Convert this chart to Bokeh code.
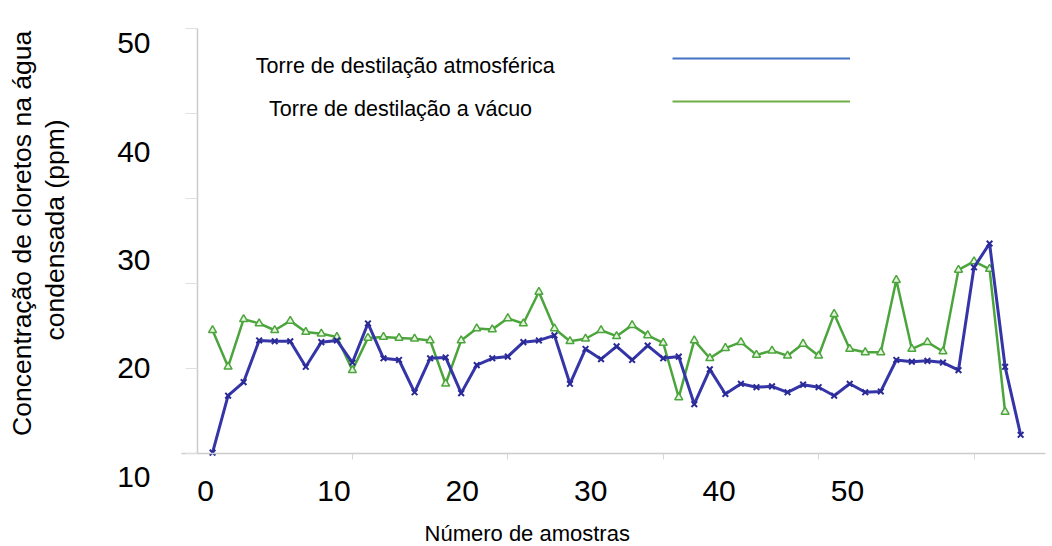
import math
from bokeh.plotting import figure
from bokeh.models import (Range1d, LinearAxis, FixedTicker, Legend, LegendItem,
                          Label, ColumnDataSource)
from bokeh.core.properties import value
from bokeh.embed import file_html
from bokeh.resources import INLINE

# ---------------- data ----------------
samples_atm = list(range(1, 54))
cl_atm = [10.1, 16.8, 18.4, 23.3, 23.2, 23.2, 20.2, 23.1, 23.3, 20.7,
          25.3, 21.2, 21.0, 17.2, 21.2, 21.3, 17.1, 20.4, 21.2, 21.4,
          23.1, 23.3, 23.9, 18.2, 22.3, 21.1, 22.6, 21.0, 22.7, 21.2,
          21.4, 15.8, 19.9, 17.0, 18.2, 17.8, 17.9, 17.2, 18.1, 17.8,
          16.8, 18.2, 17.2, 17.3, 21.0, 20.8, 20.9, 20.7, 19.8, 31.9,
          34.7, 20.2, 12.2]

samples_vac = list(range(1, 53))
cl_vac = [24.5, 20.2, 25.8, 25.3, 24.5, 25.6, 24.3, 24.1, 23.7, 19.8,
          23.6, 23.7, 23.6, 23.5, 23.3, 18.2, 23.3, 24.7, 24.6, 25.9,
          25.3, 29.0, 24.7, 23.2, 23.5, 24.5, 23.8, 25.1, 23.9, 23.0,
          16.6, 23.3, 21.2, 22.4, 23.1, 21.6, 22.1, 21.5, 22.9, 21.5,
          26.4, 22.3, 21.9, 21.9, 30.4, 22.3, 23.1, 22.0, 31.6, 32.6,
          31.7, 14.9]

x_tick_labels = [0, 10, 20, 30, 40, 50]
y_tick_labels = [10, 20, 30, 40, 50]
inner_x_ticks = [10, 20, 30, 40, 50]
inner_y_ticks = [10, 20, 30, 40, 50, 60]
legend_names = ["Torre de destilação atmosférica", "Torre de destilação a vácuo"]
y_title_lines = ["Concentração de cloretos na água", "condensada (ppm)"]
x_title = "Número de amostras"

FONT = "Liberation Sans"
BLUE = "#3535a8"
GREEN = "#4ca53c"

# the frame covers the whole page; axes are placed at fixed locations
p = figure(width=1052, height=546, output_backend="svg", toolbar_location=None,
           x_range=Range1d(-12.645, 55.05), y_range=Range1d(-0.94, 63.29),
           x_axis_location=None, y_axis_location=None,
           min_border=0, min_border_left=0, min_border_right=0,
           min_border_top=0, min_border_bottom=0)
p.grid.visible = False
p.outline_line_color = None
p.background_fill_color = "white"
p.border_fill_color = "white"

# ranges used by the printed tick labels
p.extra_x_ranges = {"lbl": Range1d(-15.97, 65.97)}
p.extra_y_ranges = {"lbl": Range1d(3.59, 53.92)}

# printed y tick labels
ya = LinearAxis(y_range_name="lbl", fixed_location=-0.804,
                ticker=FixedTicker(ticks=y_tick_labels),
                axis_line_color=None, major_tick_line_color=None,
                minor_tick_line_color=None, major_tick_out=0, major_tick_in=0,
                major_label_text_font=FONT, major_label_text_font_size="30px",
                major_label_text_color="black", major_label_standoff=34)
p.add_layout(ya, "left")

# printed x tick labels
xa = LinearAxis(x_range_name="lbl", fixed_location=6.82,
                ticker=FixedTicker(ticks=x_tick_labels),
                axis_line_color=None, major_tick_line_color=None,
                minor_tick_line_color=None, major_tick_out=0, major_tick_in=0,
                major_label_text_font=FONT, major_label_text_font_size="30px",
                major_label_text_color="black", major_label_standoff=0)
p.add_layout(xa, "below")

# faint inner axes of the original chart
ux = LinearAxis(fixed_location=10, bounds=(-1.0, 54.6),
                ticker=FixedTicker(ticks=inner_x_ticks),
                axis_line_color="#cccccc", axis_line_width=1.5,
                major_tick_line_color="#d5d5d5", major_tick_out=6, major_tick_in=0,
                minor_tick_line_color=None, major_label_text_font_size="0px",
                major_label_overrides={t: "" for t in inner_x_ticks})
p.add_layout(ux, "below")
uy = LinearAxis(fixed_location=0, bounds=(10, 60),
                ticker=FixedTicker(ticks=inner_y_ticks),
                axis_line_color="#cccccc", axis_line_width=1.5,
                major_tick_line_color="#e0e0e0", major_tick_out=12, major_tick_in=0,
                minor_tick_line_color=None, major_label_text_font_size="0px",
                major_label_overrides={t: "" for t in inner_y_ticks})
p.add_layout(uy, "left")

# axis titles
p.add_layout(Label(x=-11.23, y=35.9, text=y_title_lines[0], angle=math.pi / 2,
                   text_align="center", text_baseline="middle", text_font=FONT,
                   text_font_size="26.5px", text_color="black"))
p.add_layout(Label(x=-9.11, y=36.3, text=y_title_lines[1], angle=math.pi / 2,
                   text_align="center", text_baseline="middle", text_font=FONT,
                   text_font_size="26.5px", text_color="black"))
p.add_layout(Label(x=14.64, y=0.6, text=x_title, text_align="left",
                   text_baseline="middle", text_font=FONT, text_font_size="22px",
                   text_color="black"))

# series
src_vac = ColumnDataSource(dict(x=samples_vac, y=cl_vac))
src_atm = ColumnDataSource(dict(x=samples_atm, y=cl_atm))

p.line("x", "y", source=src_vac, line_color=GREEN, line_width=2.5)
p.scatter("x", "y", source=src_vac, marker="triangle", size=8,
          fill_color="#e6f4df", line_color=GREEN, line_width=1.5)
p.line("x", "y", source=src_atm, line_color=BLUE, line_width=3)
p.scatter("x", "y", source=src_atm, marker="x", size=8,
          line_color="#2a2a96", line_width=2)

# legend: text on the left, line sample on the right
nan = float("nan")
d1 = p.line(x=[nan], y=[nan], line_color="#4472c4", line_width=2)
d2 = p.line(x=[nan], y=[nan], line_color="#70ad47", line_width=2)
legend = Legend(items=[LegendItem(label=value(" "), renderers=[d1]),
                       LegendItem(label=value(" "), renderers=[d2])],
                location=(672, 435), glyph_width=178, glyph_height=20,
                label_height=20, label_width=0, label_standoff=0, spacing=23,
                padding=0, margin=0, border_line_color=None,
                background_fill_alpha=0, label_text_font_size="1px")
p.add_layout(legend)

p.add_layout(Label(x=13.4, y=55.6, text=legend_names[0], text_align="center",
                   text_baseline="middle", text_font=FONT, text_font_size="21.5px",
                   text_color="black"))
p.add_layout(Label(x=13.1, y=50.5, text=legend_names[1], text_align="center",
                   text_baseline="middle", text_font=FONT, text_font_size="21.5px",
                   text_color="black"))

open("out.html", "w").write(file_html(p, INLINE))
